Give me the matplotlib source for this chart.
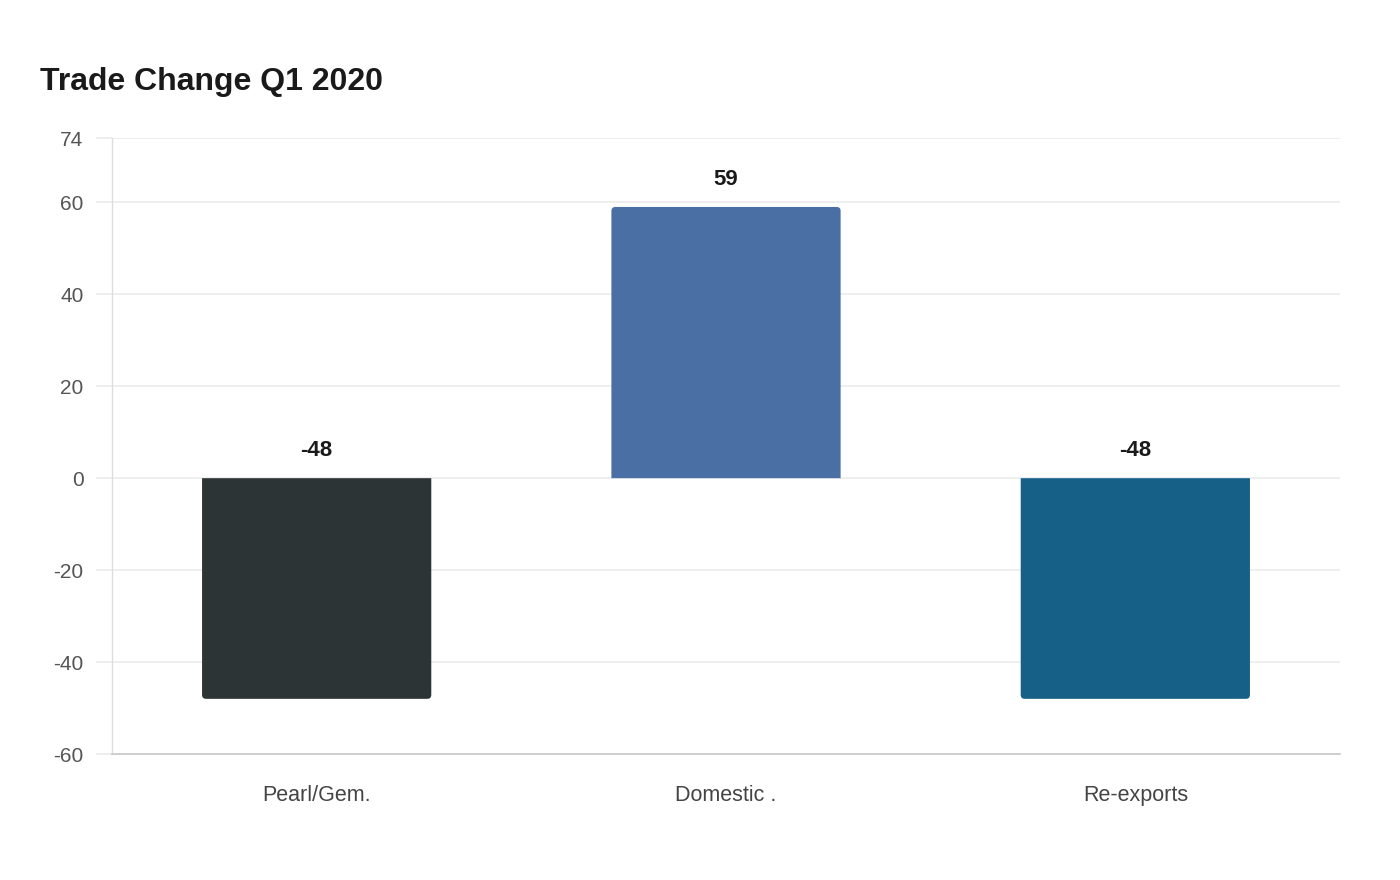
import matplotlib
matplotlib.use("Agg")
import matplotlib.pyplot as plt
from matplotlib.patches import PathPatch
from matplotlib.path import Path

categories = ["Pearl/Gem.", "Domestic .", "Re-exports"]
values = [-48, 59, -48]
colors = ["#2d3436", "#4a6fa5", "#166088"]
yticks = [-60, -40, -20, 0, 20, 40, 60, 74]

plt.rcParams['font.family'] = ['Liberation Sans', 'DejaVu Sans']

fig = plt.figure(figsize=(14, 8.8), dpi=100)
ax = fig.add_axes([112/1400, 1 - 754/880, (1340-112)/1400, (754-138)/880])

ax.set_xlim(-0.5, 2.5)
ax.set_ylim(-60, 74)

bw = 0.56
bars = ax.bar(range(len(categories)), values, width=bw, color=colors, zorder=3)
# rounded outer corners
xpp = 3 / 1228.0
ypp = 134 / 616.0
rx = 4 * xpp
ry = 4 * ypp
for b, c, v in zip(bars, colors, values):
    b.set_visible(False)
    x0 = b.get_x(); x1 = x0 + b.get_width()
    s = 1 if v >= 0 else -1
    verts = [(x0, 0), (x0, v - s * ry), (x0, v), (x0 + rx, v), (x1 - rx, v),
             (x1, v), (x1, v - s * ry), (x1, 0), (x0, 0)]
    codes = [Path.MOVETO, Path.LINETO, Path.CURVE3, Path.CURVE3, Path.LINETO,
             Path.CURVE3, Path.CURVE3, Path.LINETO, Path.CLOSEPOLY]
    ax.add_patch(PathPatch(Path(verts, codes), facecolor=c, edgecolor='none', zorder=3))

for i, v in enumerate(values):
    ax.text(i, max(v, 0) + 6, f"{v}", ha='center', va='center', fontsize=16,
            fontweight='bold', color='#1a1a1a', zorder=4)

ax.set_yticks(yticks)
ax.set_yticklabels([str(t) for t in yticks])
ax.set_xticks(range(len(categories)))
ax.set_xticklabels(categories)
ax.grid(axis='y', color='#ebebeb', linewidth=1.2, zorder=0)
ax.tick_params(axis='y', length=11.5, color='#ebebeb', width=1.2, labelsize=15,
               labelcolor='#555555', pad=9)
ax.tick_params(axis='x', length=0, labelsize=15.5, labelcolor='#444444', pad=22)
for s in ['top', 'right']:
    ax.spines[s].set_visible(False)
ax.spines['left'].set_color('#dddddd')
ax.spines['left'].set_linewidth(1)
ax.spines['bottom'].set_color('#cccccc')
ax.spines['bottom'].set_linewidth(1.3)

fig.text(40/1400, 1 - 82/880, "Trade Change Q1 2020", fontsize=23, fontweight='bold',
         color='#1a1a1a', ha='left', va='center')

fig.savefig("out.png", dpi=100, facecolor='white')
